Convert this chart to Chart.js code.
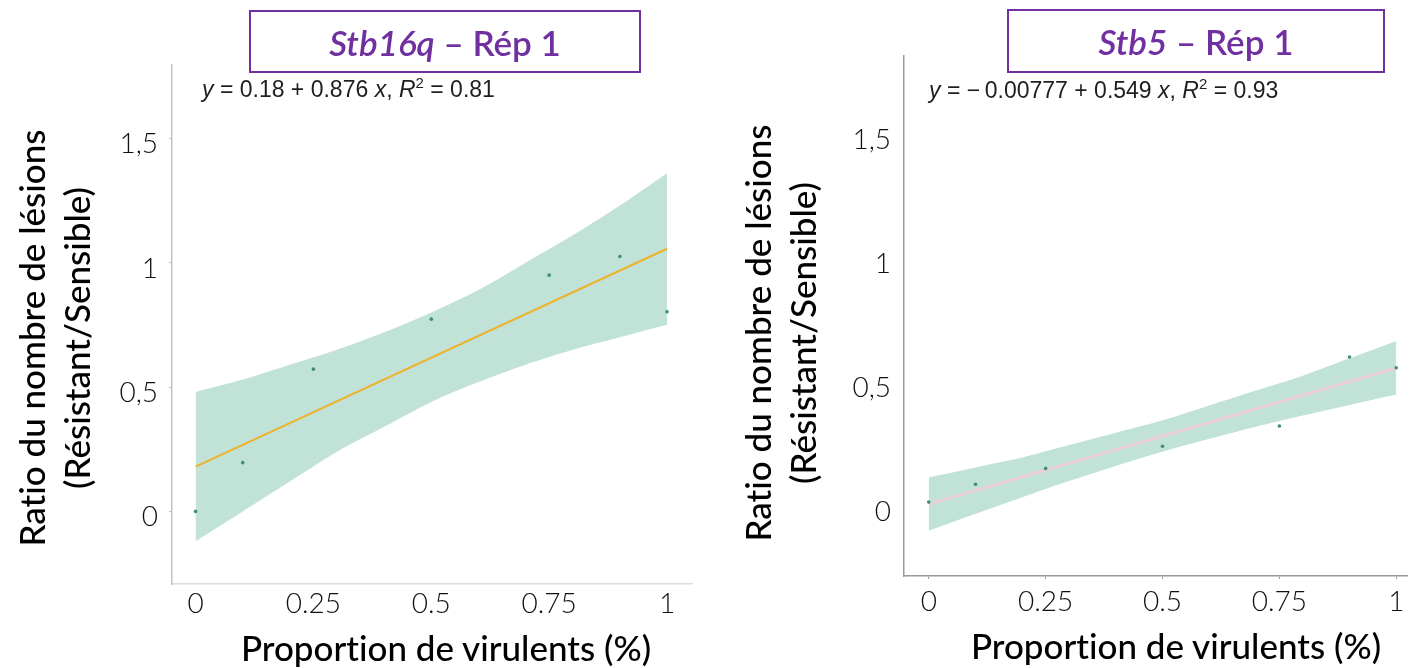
<!DOCTYPE html>
<html>
<head>
<meta charset="utf-8">
<script src="https://cdn.jsdelivr.net/npm/chart.js@4.4.1/dist/chart.umd.min.js"></script>
<style>
  html, body { margin: 0; padding: 0; background: #fff; }
  body { width: 1411px; height: 668px; position: relative; overflow: hidden; font-family: Lato, sans-serif;
         font-variant-ligatures: none; }
  canvas { position: absolute; top: 0; }
  .box { position: absolute; border: 2px solid #7030A0; box-sizing: border-box; color: #7030A0;
         font-size: 35px; font-weight: 600; display: flex; align-items: center; justify-content: center; white-space: nowrap; }
  .eq { position: absolute; font-family: "Liberation Sans", Arial, sans-serif; font-size: 23px; color: #1e1e1e;
        line-height: 23px; white-space: nowrap; }
  .eq sup { font-size: 15px; vertical-align: 9px; line-height: 0; }
  .ytitle { position: absolute; width: 520px; height: 90px; line-height: 45px; font-size: 35px; font-weight: 500;
            text-align: center; transform: rotate(-90deg); white-space: nowrap; color: #000; }
  .xtitle { position: absolute; width: 500px; text-align: center; font-size: 35px; font-weight: 500;
            line-height: 40px; white-space: nowrap; color: #000; }
</style>
</head>
<body>
<canvas id="left" width="700" height="668" style="left:0px"></canvas>
<canvas id="right" width="706" height="668" style="left:705px"></canvas>

<div class="box" style="left:249px;top:10px;width:392px;height:63px"><i>Stb16q</i>&nbsp;– Rép 1</div>
<div class="box" style="left:1007px;top:9px;width:378px;height:64px"><i>Stb5</i>&nbsp;– Rép 1</div>

<div class="eq" style="left:202px;top:78px"><i>y</i> = 0.18 + 0.876 <i>x</i>, <i>R</i><sup>2</sup> = 0.81</div>
<div class="eq" style="left:929px;top:79px"><i>y</i> = −&thinsp;0.00777 + 0.549 <i>x</i>, <i>R</i><sup>2</sup> = 0.93</div>

<div class="ytitle" style="left:-206px;top:293px">Ratio du nombre de lésions<br>(Résistant/Sensible)</div>
<div class="ytitle" style="left:520px;top:288px">Ratio du nombre de lésions<br>(Résistant/Sensible)</div>
<div class="xtitle" style="left:196px;top:627px">Proportion de virulents (%)</div>
<div class="xtitle" style="left:926px;top:625px">Proportion de virulents (%)</div>

<script>
// proportion of virulent isolates in the mix
const propX = [0, 0.1, 0.25, 0.5, 0.75, 0.9, 1];
// observed ratios
const stb16qRatio = [0, 0.196, 0.572, 0.773, 0.95, 1.025, 0.803];
const stb5Ratio = [0, 0.072, 0.136, 0.225, 0.307, 0.585, 0.542];

// fitted line ends (x = 0 and x = 1)
const fitX = [0, 1];
const stb16qFit = [0.18, 1.056];
const stb5Fit = [-0.008, 0.541];

// confidence band read at x = 0, 0.1, ... 1
const bandX = [0, 0.1, 0.2, 0.3, 0.4, 0.5, 0.6, 0.7, 0.8, 0.9, 1];
const stb16qUpper = [0.48, 0.53, 0.59, 0.65, 0.72, 0.80, 0.89, 1.00, 1.11, 1.23, 1.36];
const stb16qLower = [-0.12, 0.0, 0.12, 0.24, 0.34, 0.44, 0.52, 0.59, 0.65, 0.70, 0.75];
const stb5Upper = [0.10, 0.14, 0.18, 0.23, 0.28, 0.33, 0.39, 0.45, 0.51, 0.58, 0.65];
const stb5Lower = [-0.115, -0.047, 0.02, 0.085, 0.146, 0.203, 0.255, 0.304, 0.349, 0.392, 0.434];

const xTicks = [0, 0.25, 0.5, 0.75, 1];
const xTickLabels = ["0", "0.25", "0.5", "0.75", "1"];
const yTicks = [0, 0.5, 1, 1.5];
const yTickLabels = ["0", "0,5", "1", "1,5"];

const pts = (xs, ys) => xs.map((x, i) => ({ x, y: ys[i] }));

function regressionChart(canvas, cfg) {
    new Chart(canvas, {
        type: "line",
        data: {
            datasets: [
                {
                    data: pts(propX, cfg.ratio),
                    showLine: false,
                    pointRadius: 1.8,
                    pointBorderWidth: 0,
                    pointBackgroundColor: "#3d8c7c",
                },
                {
                    data: pts(fitX, cfg.fit),
                    borderColor: cfg.lineColor,
                    borderWidth: cfg.lineWidth,
                    pointRadius: 0,
                },
                {
                    data: pts(bandX, cfg.upper),
                    borderWidth: 0,
                    pointRadius: 0,
                    tension: 0.3,
                    fill: "+1",
                    backgroundColor: "rgba(190,224,213,0.95)",
                },
                {
                    data: pts(bandX, cfg.lower),
                    borderWidth: 0,
                    pointRadius: 0,
                    tension: 0.3,
                    fill: false,
                },
            ],
        },
        options: {
            responsive: false,
            animation: false,
            layout: { padding: cfg.padding },
            plugins: { legend: { display: false }, tooltip: { enabled: false } },
            scales: {
                x: {
                    type: "linear",
                    min: cfg.xMin,
                    max: cfg.xMax,
                    afterFit: (s) => { s.height = cfg.xHeight; s.paddingLeft = 0; s.paddingRight = 0; },
                    afterBuildTicks: (s) => { s.ticks = xTicks.map((v) => ({ value: v })); },
                    ticks: {
                        callback: (v) => xTickLabels[xTicks.indexOf(v)],
                        font: { family: "Lato", size: 28, weight: 300 },
                        color: "#111",
                        padding: cfg.xPad,
                        maxRotation: 0,
                    },
                    grid: { display: cfg.xTickMarks, drawOnChartArea: false, tickLength: 3, color: cfg.axisColor },
                    border: { display: true, color: cfg.bottomColor, width: 1.5 },
                },
                y: {
                    min: cfg.yMin,
                    max: cfg.yMax,
                    afterFit: (s) => { s.width = cfg.yWidth; s.paddingTop = 0; s.paddingBottom = 0; },
                    afterBuildTicks: (s) => { s.ticks = yTicks.map((v) => ({ value: v })); },
                    ticks: {
                        callback: (v) => yTickLabels[yTicks.indexOf(v)],
                        font: { family: "Lato", size: 28, weight: 300 },
                        color: "#111",
                        padding: cfg.yPad,
                        labelOffset: cfg.yLabelOffset,
                    },
                    grid: { display: cfg.yTickMarks, drawOnChartArea: false, tickLength: 3, color: cfg.axisColor },
                    border: { display: true, color: cfg.axisColor, width: 1.5 },
                },
            },
        },
    });
}

regressionChart(document.getElementById("left"), {
    ratio: stb16qRatio, fit: stb16qFit, upper: stb16qUpper, lower: stb16qLower,
    lineColor: "#eeb22c", lineWidth: 2,
    padding: { left: 0, right: 8, top: 65, bottom: 0 },
    xMin: -0.05, xMax: 1.053, yMin: -0.292, yMax: 1.795,
    xHeight: 84, yWidth: 172, xPad: 0, yPad: 11, yLabelOffset: 6,
    xTickMarks: false, yTickMarks: true,
    axisColor: "#c4c4c4", bottomColor: "#dedede",
});

regressionChart(document.getElementById("right"), {
    ratio: stb5Ratio, fit: stb5Fit, upper: stb5Upper, lower: stb5Lower,
    lineColor: "#eacdd6", lineWidth: 3,
    padding: { left: 0, right: 0, top: 56, bottom: 0 },
    xMin: -0.053, xMax: 1.023, yMin: -0.298, yMax: 1.799,
    xHeight: 92, yWidth: 199, xPad: 6, yPad: 10, yLabelOffset: 10,
    xTickMarks: true, yTickMarks: false,
    axisColor: "#9a9a9a", bottomColor: "#9a9a9a",
});
</script>
</body>
</html>
